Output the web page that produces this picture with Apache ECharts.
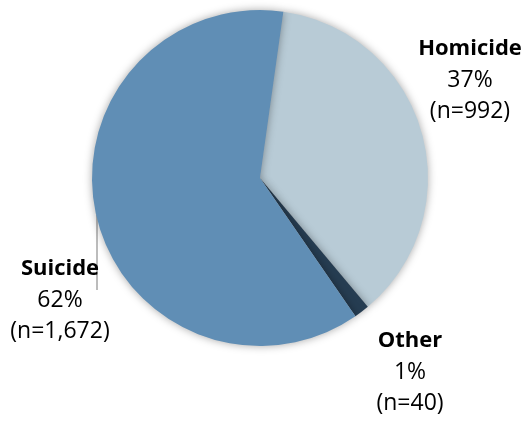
<!DOCTYPE html>
<html>
<head>
<meta charset="utf-8">
<script src="https://cdn.jsdelivr.net/npm/echarts@6/dist/echarts.min.js"></script>
<style>html,body{margin:0;padding:0;background:#fff;}#c{width:526px;height:422px;}</style>
</head>
<body>
<div id="c"></div>
<script>
var categories = ['Homicide', 'Other', 'Suicide'];
var counts = [992, 40, 1672];
var colors = ['#b8cbd6', '#263d52', '#608eb5'];

var total = counts.reduce(function (a, b) { return a + b; }, 0);
var chart = echarts.init(document.getElementById('c'));
var labelPos = {
  Homicide: [470, 80],
  Other: [410, 372],
  Suicide: [60, 300]
};
chart.setOption({
  animation: false,
  series: [{
    type: 'pie',
    center: [260, 178],
    radius: 168,
    startAngle: 82,
    clockwise: true,
    data: categories.map(function (c, i) {
      return {
        name: c,
        value: counts[i],
        itemStyle: { color: colors[i] },
        labelLine: { show: c === 'Suicide', lineStyle: { color: '#a6a6a6', width: 1.5 } }
      };
    }),
    itemStyle: { shadowBlur: 8, shadowColor: 'rgba(0,0,0,0.35)', borderWidth: 0 },
    label: {
      show: true,
      overflow: 'none',
      formatter: function (p) {
        return '{b|' + p.name + '}\n{v|' + Math.round(p.value / total * 100) + '%}\n{v|(n=' + p.value.toLocaleString('en-US') + ')}';
      },
      rich: {
        b: { fontFamily: 'Open Sans', fontWeight: 'bold', fontSize: 22, lineHeight: 31, color: '#000', align: 'center' },
        v: { fontFamily: 'Open Sans', fontSize: 23, lineHeight: 31, color: '#000', align: 'center' }
      }
    },
    labelLine: { show: false },
    labelLayout: function (params) {
      var name = categories[params.dataIndex];
      var pos = labelPos[name];
      var out = { x: pos[0], y: pos[1], align: 'center', verticalAlign: 'middle' };
      if (name === 'Suicide') {
        out.labelLinePoints = [[97, 215], [97, 250], [97, 290]];
      }
      return out;
    }
  }]
});
</script>
</body>
</html>
